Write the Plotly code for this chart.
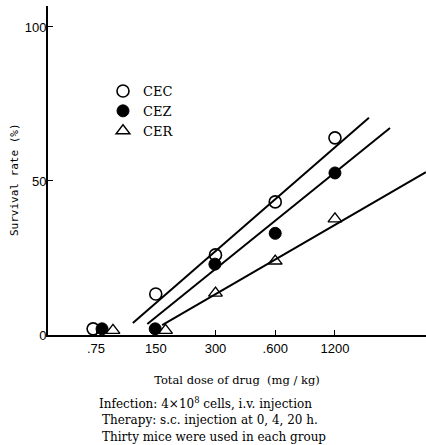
import plotly.graph_objects as go

# ---- data ----
tick_vals = [75, 150, 300, 600, 1200]
tick_text = [".75", "150", "300", ".600", "1200"]

cec_dose = [72.5, 150, 300, 600, 1200]
cec_rate = [2.0, 13.3, 26.0, 43.2, 64.0]
cez_dose = [80.4, 149, 298, 600, 1200]
cez_rate = [2.0, 2.0, 23.0, 33.0, 52.6]
cer_dose = [91.3, 168, 300, 600, 1200]
cer_rate = [1.5, 1.5, 13.6, 24.0, 37.7]

# fitted regression lines (end points)
cec_fit_dose = [115, 1780]
cec_fit_rate = [3.9, 70.5]
cez_fit_dose = [136, 2273]
cez_fit_rate = [3.6, 67.2]
cer_fit_dose = [161.5, 3449]
cer_fit_rate = [3.2, 52.9]

notes = [
    "Infection: 4×10<sup>8</sup> cells, i.v. injection",
    "Therapy: s.c. injection at 0, 4, 20 h.",
    "Thirty mice were used in each group",
]

SERIF = "DejaVu Serif, Liberation Serif, serif"
SANS = "Liberation Sans, DejaVu Sans, sans-serif"
MONO = "DejaVu Sans Mono, Liberation Mono, monospace"

fig = go.Figure()
for fx, fy in [(cec_fit_dose, cec_fit_rate), (cez_fit_dose, cez_fit_rate), (cer_fit_dose, cer_fit_rate)]:
    fig.add_trace(go.Scatter(x=fx, y=fy, mode="lines", line=dict(color="black", width=2),
                             showlegend=False, hoverinfo="skip"))

fig.add_trace(go.Scatter(x=cec_dose, y=cec_rate, mode="markers", name="CEC",
                         marker=dict(symbol="circle-open", size=12, color="black", line=dict(width=1.6, color="black")),
                         cliponaxis=False))
fig.add_trace(go.Scatter(x=cez_dose, y=cez_rate, mode="markers", name="CEZ",
                         marker=dict(symbol="circle", size=12, color="black", line=dict(width=1, color="black")),
                         cliponaxis=False))
fig.add_trace(go.Scatter(x=cer_dose, y=cer_rate, mode="markers", name="CER",
                         marker=dict(symbol="triangle-up-open", size=12, color="black", line=dict(width=1.4, color="black")),
                         cliponaxis=False))

fig.update_layout(
    width=426, height=445,
    margin=dict(l=48, r=0, t=6, b=110, autoexpand=False),
    paper_bgcolor="white", plot_bgcolor="white",
    font=dict(family=SERIF, color="black", size=12),
    legend=dict(x=(103 - 48) / 378, y=(335 - 76) / 329, xanchor="left", yanchor="top",
                font=dict(family=SERIF, size=13), bgcolor="rgba(0,0,0,0)",
                itemwidth=30, tracegroupgap=0),
    xaxis=dict(type="log", range=[1.633, 3.538], automargin=False,
               tickvals=tick_vals, ticktext=tick_text,
               ticks="inside", ticklen=5, tickwidth=1.2, tickcolor="black",
               showline=True, linecolor="black", linewidth=2,
               showgrid=False, zeroline=False,
               tickfont=dict(family=SANS, size=13),
               title=dict(text="Total dose of drug  (mg / kg)", font=dict(family=SERIF, size=11.5), standoff=21)),
    yaxis=dict(range=[0, 106.8], tickvals=[0, 50, 100], automargin=False,
               ticks="inside", ticklen=5, tickwidth=1.2, tickcolor="black",
               showline=True, linecolor="black", linewidth=2,
               showgrid=False, zeroline=False, ticklabelstandoff=-3,
               tickfont=dict(family=SANS, size=13)),
)

fig.add_annotation(text="Survival rate (%)", xref="paper", yref="paper",
                   x=(14 - 48) / 378, y=(335 - 180) / 329, textangle=-90,
                   xanchor="center", yanchor="middle", showarrow=False,
                   font=dict(family=MONO, size=11))

for i, t in enumerate(notes):
    fig.add_annotation(text=t, xref="paper", yref="paper", x=(97 - 48) / 378 if i == 0 else (100 - 48) / 378,
                       y=-(403 - 335) / 329 - i * 17 / 329, xanchor="left", yanchor="middle",
                       showarrow=False, font=dict(family=SERIF, size=12))

fig.write_html("out.html", config={"displayModeBar": False},
               post_script="document.body.style.margin='0';")
